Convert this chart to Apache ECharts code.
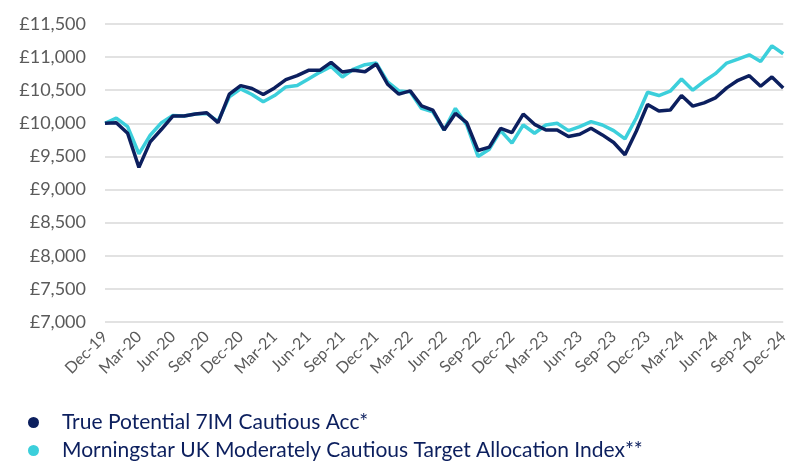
<!DOCTYPE html>
<html>
<head>
<meta charset="utf-8">
<script src="https://cdn.jsdelivr.net/npm/echarts@6/dist/echarts.min.js"></script>
<style>
html,body{margin:0;padding:0;background:#fff;}
#chart{width:791px;height:461px;}
</style>
</head>
<body>
<div id="chart"></div>
<script>
const months = ['Dec-19',
 'Jan-20','Feb-20','Mar-20','Apr-20','May-20','Jun-20','Jul-20','Aug-20','Sep-20','Oct-20','Nov-20','Dec-20',
 'Jan-21','Feb-21','Mar-21','Apr-21','May-21','Jun-21','Jul-21','Aug-21','Sep-21','Oct-21','Nov-21','Dec-21',
 'Jan-22','Feb-22','Mar-22','Apr-22','May-22','Jun-22','Jul-22','Aug-22','Sep-22','Oct-22','Nov-22','Dec-22',
 'Jan-23','Feb-23','Mar-23','Apr-23','May-23','Jun-23','Jul-23','Aug-23','Sep-23','Oct-23','Nov-23','Dec-23',
 'Jan-24','Feb-24','Mar-24','Apr-24','May-24','Jun-24','Jul-24','Aug-24','Sep-24','Oct-24','Nov-24','Dec-24'];

const fundName = 'True Potential 7IM Cautious Acc*';
const indexName = 'Morningstar UK Moderately Cautious Target Allocation Index**';

const fundValues = [10000,
 10010,9850,9335,9720,9910,10110,10110,10140,10160,10010,10440,10570,
 10525,10435,10535,10660,10720,10800,10800,10920,10775,10800,10780,10895,
 10590,10440,10490,10265,10200,9900,10150,10010,9590,9640,9925,9860,
 10140,9985,9900,9900,9800,9835,9925,9825,9710,9525,9880,10285,
 10185,10200,10420,10260,10310,10385,10535,10650,10720,10560,10700,10535];

const indexValues = [10000,
 10080,9950,9540,9820,10010,10120,10110,10140,10150,10030,10400,10520,
 10435,10325,10420,10550,10570,10670,10770,10860,10700,10820,10885,10910,
 10625,10490,10475,10225,10175,9900,10225,9975,9500,9610,9890,9700,
 9975,9850,9975,10000,9890,9950,10025,9975,9890,9765,10080,10470,
 10420,10485,10670,10500,10635,10750,10910,10970,11035,10935,11170,11050];

const yMin = 7000, yMax = 11500, yStep = 500;

const navy = '#0c1f5e';
const cyan = '#3ccfdb';
const grey = '#5a5a5a';
const font = 'Lato, "Open Sans", sans-serif';

function legendAt(name, top) {
  return {
    orient: 'vertical',
    left: 28,
    top: top,
    padding: 0,
    icon: 'circle',
    itemWidth: 11,
    itemHeight: 11,
    textStyle: {color: navy, fontSize: 21, fontFamily: font, padding: [0,0,0,18]},
    data: [name]
  };
}

const chart = echarts.init(document.getElementById('chart'), null, {renderer: 'canvas'});
chart.setOption({
  animation: false,
  backgroundColor: '#fff',
  textStyle: {fontFamily: font},
  grid: {left: 105, right: 3, top: 24, bottom: 139},
  legend: [legendAt(fundName, 412), legendAt(indexName, 440)],
  xAxis: {
    type: 'category',
    data: months,
    boundaryGap: false,
    axisLine: {show: false},
    axisTick: {show: false},
    splitLine: {show: false},
    axisLabel: {
      interval: 2,
      rotate: 45,
      color: grey,
      fontSize: 16,
      fontFamily: font,
      margin: 12
    }
  },
  yAxis: {
    type: 'value',
    min: yMin,
    max: yMax,
    interval: yStep,
    axisLine: {show: false},
    axisTick: {show: false},
    splitLine: {lineStyle: {color: '#d9d9d9', width: 1.5}},
    axisLabel: {
      color: grey,
      fontSize: 18,
      fontFamily: font,
      margin: 19,
      formatter: v => '£' + v.toLocaleString('en-GB')
    }
  },
  series: [
    {
      name: fundName,
      type: 'line',
      data: fundValues,
      showSymbol: false,
      symbol: 'circle',
      z: 3,
      color: navy,
      lineStyle: {color: navy, width: 3.5}
    },
    {
      name: indexName,
      type: 'line',
      data: indexValues,
      showSymbol: false,
      symbol: 'circle',
      z: 2,
      color: cyan,
      lineStyle: {color: cyan, width: 3.5}
    }
  ]
});
</script>
</body>
</html>
